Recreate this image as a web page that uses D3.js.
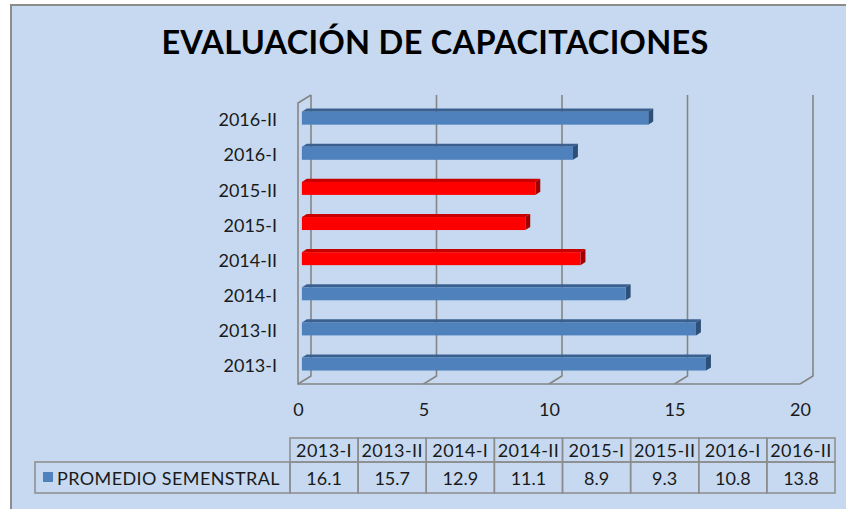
<!DOCTYPE html>
<html>
<head>
<meta charset="utf-8">
<script src="https://cdn.jsdelivr.net/npm/d3@7"></script>
<style>
  html, body { margin: 0; padding: 0; background: #fff; }
  svg { display: block; font-family: Lato, "Noto Sans", sans-serif; }
</style>
</head>
<body>
<div id="chart"></div>
<script>
// Data
const categories = ["2013-I", "2013-II", "2014-I", "2014-II", "2015-I", "2015-II", "2016-I", "2016-II"];
const values = [16.1, 15.7, 12.9, 11.1, 8.9, 9.3, 10.8, 13.8];
const highlighted = ["2014-II", "2015-I", "2015-II"];
const xTicks = [0, 5, 10, 15, 20];
const seriesName = "PROMEDIO SEMENSTRAL";
const title = "EVALUACIÓN DE CAPACITACIONES";

const WIDTH = 846, HEIGHT = 509;
const DEPTH_X = 13, DEPTH_Y = -8;   // 3d depth offset of the plot box
const BAR_FRONT = 0.3, BAR_BACK = 0.68; // bar depth as a share of the box depth

const colors = {
  normal: { front: "#4f81bd", top: "#3a6090", side: "#2d4f78" },
  alert: { front: "#ff0000", top: "#c80000", side: "#a00000" }
};

const svg = d3.select("#chart").append("svg")
  .attr("width", WIDTH).attr("height", HEIGHT);

// chart area
svg.append("rect")
  .attr("x", 11).attr("y", 5)
  .attr("width", WIDTH + 20).attr("height", HEIGHT + 20)
  .attr("fill", "#c6d9f0")
  .attr("stroke", "#8c8c8c").attr("stroke-width", 2);

svg.append("text")
  .attr("x", 435).attr("y", 54)
  .attr("text-anchor", "middle")
  .attr("font-size", 32.5).attr("font-weight", 700)
  .attr("letter-spacing", 0.3)
  .attr("fill", "#000")
  .text(title);

// Scales (front plane of the box)
const x = d3.scaleLinear().domain([0, 20]).range([298, 800]);
const y = d3.scaleBand().domain(categories.slice().reverse()).range([103, 384])
  .paddingInner(0.63).paddingOuter(0.315);
const yTop = y.range()[0], yBot = y.range()[1];

// Walls and gridlines
const grid = svg.append("g")
  .attr("fill", "none").attr("stroke", "#858585").attr("stroke-width", 1.6);

xTicks.forEach((t) => {
  const bx = x(t) + DEPTH_X;
  grid.append("path")
    .attr("d", `M${bx},${yTop + DEPTH_Y}V${yBot + DEPTH_Y}L${x(t)},${yBot}`);
});
grid.append("path")
  .attr("d", `M${x(0) + DEPTH_X},${yTop + DEPTH_Y}L${x(0)},${yTop}V${yBot}H${x(20)}`);

// Bars
const bars = svg.append("g");
categories.forEach((c, i) => {
  const col = highlighted.includes(c) ? colors.alert : colors.normal;
  const ox = DEPTH_X * BAR_FRONT, oy = DEPTH_Y * BAR_FRONT;
  const dx = DEPTH_X * (BAR_BACK - BAR_FRONT), dy = DEPTH_Y * (BAR_BACK - BAR_FRONT);
  const x0 = x(0) + ox, x1 = x(values[i]) + ox;
  const y0 = y(c) + oy, h = y.bandwidth();
  const g = bars.append("g");
  g.append("path")
    .attr("d", `M${x0},${y0}L${x0 + dx},${y0 + dy}H${x1 + dx}L${x1},${y0}Z`)
    .attr("fill", col.top);
  g.append("path")
    .attr("d", `M${x1},${y0}L${x1 + dx},${y0 + dy}V${y0 + dy + h}L${x1},${y0 + h}Z`)
    .attr("fill", col.side);
  g.append("rect")
    .attr("x", x0).attr("y", y0)
    .attr("width", x1 - x0).attr("height", h)
    .attr("fill", col.front);
});

// Axes
const xAxis = svg.append("g")
  .attr("transform", `translate(0,${yBot + 19})`)
  .call(d3.axisBottom(x).tickValues(xTicks).tickSize(0).tickPadding(0));
xAxis.select(".domain").remove();
xAxis.selectAll("text").attr("font-size", 18).attr("fill", "#1a1a1a")
  .attr("font-family", "Lato, sans-serif");

const yAxis = svg.append("g")
  .attr("transform", `translate(${x(0)},0)`)
  .call(d3.axisLeft(y).tickSize(0).tickPadding(21));
yAxis.select(".domain").remove();
yAxis.selectAll("text").attr("font-size", 18).attr("fill", "#1a1a1a")
  .attr("font-family", "Lato, sans-serif");

// Data table
const col = d3.scaleBand().domain(categories).range([290, 835]);
const rowHead = [438, 462], rowData = [462, 493];
const table = svg.append("g")
  .attr("font-size", 18).attr("fill", "#1a1a1a");

const cellStyle = (sel) => sel.attr("fill", "none")
  .attr("stroke", "#8c8c8c").attr("stroke-width", 1.5);

categories.forEach((c, i) => {
  table.append("rect").call(cellStyle)
    .attr("x", col(c)).attr("y", rowHead[0])
    .attr("width", col.bandwidth()).attr("height", rowHead[1] - rowHead[0]);
  table.append("rect").call(cellStyle)
    .attr("x", col(c)).attr("y", rowData[0])
    .attr("width", col.bandwidth()).attr("height", rowData[1] - rowData[0]);
  table.append("text")
    .attr("x", col(c) + col.bandwidth() / 2).attr("y", 456.5)
    .attr("text-anchor", "middle").attr("letter-spacing", 0.4).text(c);
  table.append("text")
    .attr("x", col(c) + col.bandwidth() / 2).attr("y", 484.5)
    .attr("text-anchor", "middle").text(values[i]);
});

table.append("rect").call(cellStyle)
  .attr("x", 35).attr("y", rowData[0])
  .attr("width", 290 - 35).attr("height", rowData[1] - rowData[0]);
table.append("rect")
  .attr("x", 43).attr("y", 472).attr("width", 10).attr("height", 10)
  .attr("fill", colors.normal.front);
table.append("text")
  .attr("x", 57).attr("y", 484.5)
  .attr("letter-spacing", 0.4)
  .text(seriesName);
</script>
</body>
</html>
